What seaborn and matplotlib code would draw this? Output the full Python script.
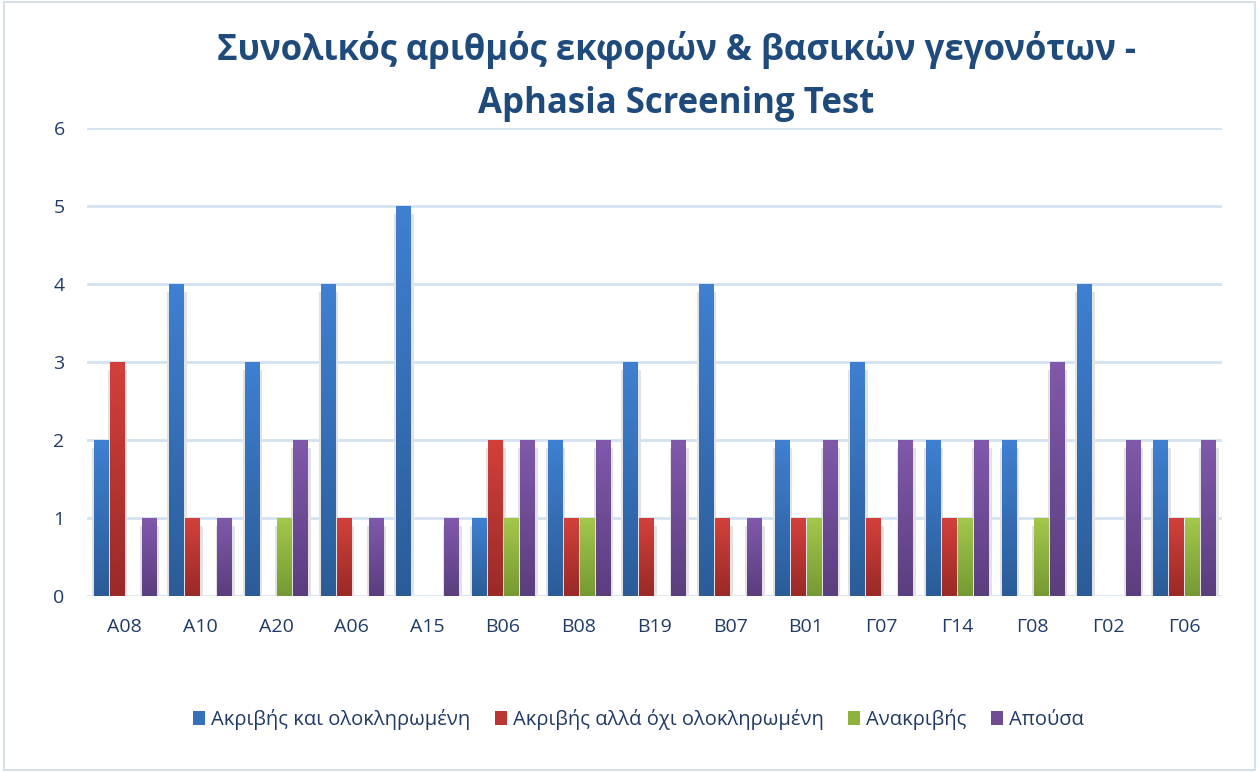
import numpy as np
import pandas as pd
import matplotlib
matplotlib.use("Agg")
import matplotlib.pyplot as plt
import seaborn as sns
from matplotlib.patches import Rectangle, Patch
from matplotlib.colors import LinearSegmentedColormap

categories = ["Α08", "Α10", "Α20", "Α06", "Α15", "Β06", "Β08", "Β19", "Β07", "Β01",
              "Γ07", "Γ14", "Γ08", "Γ02", "Γ06"]
series_names = ["Ακριβής και ολοκληρωμένη", "Ακριβής αλλά όχι ολοκληρωμένη", "Ανακριβής", "Απούσα"]
accurate_complete = [2, 4, 3, 4, 5, 1, 2, 3, 4, 2, 3, 2, 2, 4, 2]
accurate_incomplete = [3, 1, 0, 1, 0, 2, 1, 1, 1, 1, 1, 1, 0, 0, 1]
inaccurate = [0, 0, 1, 0, 0, 1, 1, 0, 0, 1, 0, 1, 1, 0, 1]
absent = [1, 1, 2, 1, 1, 2, 2, 2, 1, 2, 2, 2, 3, 2, 2]

top_colors = ["#3f80d2", "#d3403b", "#a3c74b", "#8059ab"]
bot_colors = ["#2b5c98", "#992a27", "#769a33", "#5b3e7e"]
mid_colors = ["#3570b8", "#bb3633", "#8db33f", "#6e4d95"]

df = pd.DataFrame({"cat": categories,
                   series_names[0]: accurate_complete,
                   series_names[1]: accurate_incomplete,
                   series_names[2]: inaccurate,
                   series_names[3]: absent})
long = df.melt(id_vars="cat", var_name="series", value_name="value")

sns.set_theme(style="white")
plt.rcParams["font.family"] = ["Open Sans", "DejaVu Sans"]

fig = plt.figure(figsize=(12.59, 7.72), dpi=100)
ax = fig.add_axes([0.069, 0.228, 0.9016, 0.606])

sns.barplot(data=long, x="cat", y="value", hue="series", hue_order=series_names,
            order=categories, palette=mid_colors, width=0.85, gap=0.12,
            legend=False, ax=ax, zorder=3)

ax.set_ylim(0, 6)
ax.set_xlim(-0.5, len(categories) - 0.5)
ax.set_yticks(range(0, 7))
ax.yaxis.grid(True, color="#d3e1f1", linewidth=2, zorder=0)
ax.xaxis.grid(False)
for s in ax.spines.values():
    s.set_visible(False)
ax.set_xlabel("")
ax.set_ylabel("")
ax.tick_params(axis="both", length=0, labelsize=14, colors="#1f3b66")
ax.tick_params(axis="x", pad=16)
ax.tick_params(axis="y", pad=16)

# gradient fill + soft shadow for bars
grad = np.linspace(1, 0, 256).reshape(-1, 1)
for i, container in enumerate(ax.containers):
    cmap = LinearSegmentedColormap.from_list("g%d" % i, [bot_colors[i], top_colors[i]])
    for bar in container:
        h = bar.get_height()
        if h <= 0:
            continue
        x0 = bar.get_x()
        w = bar.get_width()
        shadow = Rectangle((x0 - 0.025, 0), w + 0.07, h - 0.1, facecolor="#e2e2e2",
                           edgecolor="none", zorder=2)
        ax.add_patch(shadow)
        bar.set_facecolor("none")
        bar.set_edgecolor("none")
        im = ax.imshow(grad, cmap=cmap, aspect="auto", extent=(x0, x0 + w, 0, h),
                       zorder=3, interpolation="bicubic")
        im.set_clip_path(bar)
ax.set_xlim(-0.5, len(categories) - 0.5)
ax.set_ylim(0, 6)
ax.set_aspect("auto")

fig.suptitle("Συνολικός αριθμός εκφορών & βασικών γεγονότων -\nAphasia Screening Test",
             x=0.537, y=0.96, fontsize=25, fontweight="bold", color="#1f4a7c",
             linespacing=1.65)

handles = [Patch(facecolor=mid_colors[i], edgecolor="none") for i in range(4)]
fig.legend(handles, series_names, loc="center", bbox_to_anchor=(0.507, 0.068), ncol=4,
           frameon=False, fontsize=14.5, handlelength=0.6, handleheight=0.75,
           handletextpad=0.3, columnspacing=1.2, labelcolor="#1f3b66")

fig.patches.append(Rectangle((0.003, 0.003), 0.994, 0.994, transform=fig.transFigure,
                             fill=False, edgecolor="#d6e0ea", linewidth=1.5))

fig.savefig("out.png", dpi=100)
